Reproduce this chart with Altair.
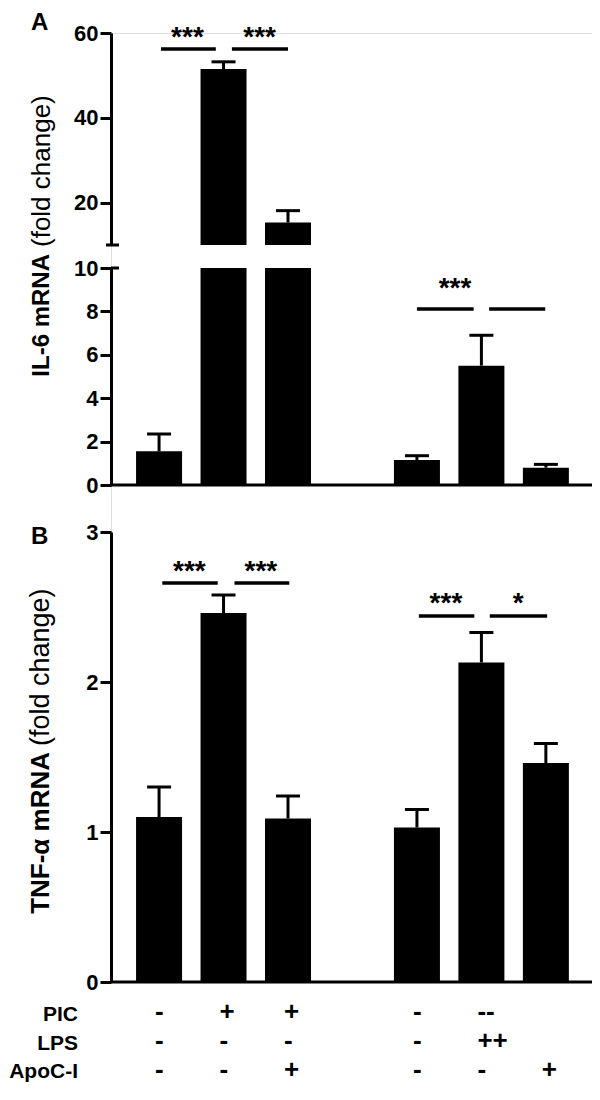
import altair as alt
import pandas as pd

# ---- data ----
positions = [1, 2, 3, 5, 6, 7]
il6_mean = [1.55, 51.5, 15.3, 1.15, 5.5, 0.8]
il6_err = [0.8, 1.7, 2.8, 0.2, 1.4, 0.15]
tnf_mean = [1.10, 2.46, 1.09, 1.03, 2.13, 1.46]
tnf_err = [0.20, 0.12, 0.15, 0.12, 0.20, 0.13]
pic = ["-", "+", "+", "-", "--", ""]
lps = ["-", "-", "-", "-", "++", ""]
apoc = ["-", "-", "+", "-", "-", "+"]

# significance brackets
sigA1_x1 = [1.03, 2.13]
sigA1_x2 = [1.88, 3.00]
sigA1_y = [56.2, 56.2]
starA1_x = [1.44, 2.56]
starA1_y = [56.9, 56.9]
starA1_lab = ["***", "***"]

sigA2_x1 = [5.00, 6.12]
sigA2_x2 = [5.88, 6.99]
sigA2_y = [8.11, 8.11]
starA2_x = [5.59]
starA2_y = [8.66]
starA2_lab = ["***"]

sigB_x1 = [1.05, 2.17, 5.03, 6.13]
sigB_x2 = [1.91, 3.02, 5.89, 7.02]
sigB_y = [2.66, 2.66, 2.44, 2.44]
starB_x = [1.47, 2.58, 5.45, 6.57]
starB_y = [2.68, 2.68, 2.47, 2.47]
starB_lab = ["***", "***", "***", "*"]

FONT = "Liberation Sans"
W = 481

df = pd.DataFrame({
    "pos": positions, "il6": il6_mean, "il6_err": il6_err,
    "tnf": tnf_mean, "tnf_err": tnf_err,
    "pic": pic, "lps": lps, "apoc": apoc,
})

xs = alt.Scale(domain=[0.332, 7.638], nice=False, zero=False)
yA1 = alt.Scale(domain=[10, 60], range=[212, 0], nice=False, zero=False)
yA2 = alt.Scale(domain=[0, 10], range=[452, 235], nice=False, zero=False)
yB = alt.Scale(domain=[0, 3], range=[949, 499], nice=False, zero=False)

axstyle = dict(orient="left", title=None, domainWidth=3, domainColor="black",
               tickWidth=3, tickColor="black", tickSize=11, labelFont=FONT,
               labelFontSize=22, labelFontWeight="bold", labelColor="black",
               labelPadding=2, grid=False, format="d", labelOverlap=False)
axA1 = alt.Axis(values=[20, 40, 60], **axstyle)
axA2 = alt.Axis(values=[0, 2, 4, 6, 8, 10], **axstyle)
axB = alt.Axis(values=[0, 1, 2, 3], **axstyle)

X = alt.X("pos:Q", scale=xs, axis=None)
base = alt.Chart(df)
BAR_W = 46
CAP_W = 24
LW = 3
STAR_SIZE = 28

# ---- Panel A, upper segment (10-60) ----
a1_bars = base.transform_filter("datum.il6 > 10").mark_bar(size=BAR_W, color="black").encode(
    x=X, y=alt.Y("il6:Q", scale=yA1, axis=axA1), y2=alt.datum(10))
a1_err = base.transform_filter("datum.il6 > 10").transform_calculate(
    hi="datum.il6 + datum.il6_err").mark_rule(strokeWidth=LW, color="black").encode(
    x=X, y=alt.Y("il6:Q", scale=yA1, axis=axA1), y2="hi:Q")
a1_cap = base.transform_filter("datum.il6 > 10").transform_calculate(
    hi="datum.il6 + datum.il6_err").mark_tick(orient="horizontal", size=CAP_W, thickness=LW, color="black", opacity=1).encode(
    x=X, y=alt.Y("hi:Q", scale=yA1, axis=axA1))
sA1 = pd.DataFrame({"x1": sigA1_x1, "x2": sigA1_x2, "y": sigA1_y})
tA1 = pd.DataFrame({"x": starA1_x, "y": starA1_y, "t": starA1_lab})
a1_sig = alt.Chart(sA1).mark_rule(strokeWidth=3.5, color="black").encode(
    x=alt.X("x1:Q", scale=xs, axis=None), x2="x2:Q", y=alt.Y("y:Q", scale=yA1, axis=axA1))
a1_star = alt.Chart(tA1).mark_text(font=FONT, fontSize=STAR_SIZE, fontWeight="bold", baseline="alphabetic", color="black").encode(
    x=alt.X("x:Q", scale=xs, axis=None), y=alt.Y("y:Q", scale=yA1, axis=axA1), text="t:N")
a1_break = base.transform_filter("datum.pos == 1").mark_rule(strokeWidth=LW, color="black").encode(
    x=alt.value(-5), x2=alt.value(8), y=alt.Y(datum=10, scale=yA1, axis=axA1))
A1 = alt.layer(a1_bars, a1_err, a1_cap, a1_sig, a1_star, a1_break)

# ---- Panel A, lower segment (0-10) ----
a2_bars = base.transform_calculate(low="min(datum.il6, 10)").mark_bar(size=BAR_W, color="black").encode(
    x=X, y=alt.Y("low:Q", scale=yA2, axis=axA2))
a2_err = base.transform_filter("datum.il6 <= 10").transform_calculate(
    hi="datum.il6 + datum.il6_err").mark_rule(strokeWidth=LW, color="black").encode(
    x=X, y=alt.Y("il6:Q", scale=yA2, axis=axA2), y2="hi:Q")
a2_cap = base.transform_filter("datum.il6 <= 10").transform_calculate(
    hi="datum.il6 + datum.il6_err").mark_tick(orient="horizontal", size=CAP_W, thickness=LW, color="black", opacity=1).encode(
    x=X, y=alt.Y("hi:Q", scale=yA2, axis=axA2))
sA2 = pd.DataFrame({"x1": sigA2_x1, "x2": sigA2_x2, "y": sigA2_y})
tA2 = pd.DataFrame({"x": starA2_x, "y": starA2_y, "t": starA2_lab})
a2_sig = alt.Chart(sA2).mark_rule(strokeWidth=3.5, color="black").encode(
    x=alt.X("x1:Q", scale=xs, axis=None), x2="x2:Q", y=alt.Y("y:Q", scale=yA2, axis=axA2))
a2_star = alt.Chart(tA2).mark_text(font=FONT, fontSize=STAR_SIZE, fontWeight="bold", baseline="alphabetic", color="black").encode(
    x=alt.X("x:Q", scale=xs, axis=None), y=alt.Y("y:Q", scale=yA2, axis=axA2), text="t:N")
a2_break = base.transform_filter("datum.pos == 1").mark_rule(strokeWidth=LW, color="black").encode(
    x=alt.value(0), x2=alt.value(8), y=alt.Y(datum=10, scale=yA2, axis=axA2))
a2_xaxis = base.transform_filter("datum.pos == 1").mark_rule(strokeWidth=LW, color="black").encode(
    x=alt.value(0), x2=alt.value(W), y=alt.Y(datum=0, scale=yA2, axis=axA2))
A2 = alt.layer(a2_bars, a2_err, a2_cap, a2_sig, a2_star, a2_break, a2_xaxis)

# ---- Panel B ----
b_bars = base.mark_bar(size=BAR_W, color="black").encode(
    x=X, y=alt.Y("tnf:Q", scale=yB, axis=axB))
b_err = base.transform_calculate(hi="datum.tnf + datum.tnf_err").mark_rule(strokeWidth=LW, color="black").encode(
    x=X, y=alt.Y("tnf:Q", scale=yB, axis=axB), y2="hi:Q")
b_cap = base.transform_calculate(hi="datum.tnf + datum.tnf_err").mark_tick(
    orient="horizontal", size=CAP_W, thickness=LW, color="black", opacity=1).encode(
    x=X, y=alt.Y("hi:Q", scale=yB, axis=axB))
sB = pd.DataFrame({"x1": sigB_x1, "x2": sigB_x2, "y": sigB_y})
tB = pd.DataFrame({"x": starB_x, "y": starB_y, "t": starB_lab})
b_sig = alt.Chart(sB).mark_rule(strokeWidth=3.5, color="black").encode(
    x=alt.X("x1:Q", scale=xs, axis=None), x2="x2:Q", y=alt.Y("y:Q", scale=yB, axis=axB))
b_star = alt.Chart(tB).mark_text(font=FONT, fontSize=STAR_SIZE, fontWeight="bold", baseline="alphabetic", color="black").encode(
    x=alt.X("x:Q", scale=xs, axis=None), y=alt.Y("y:Q", scale=yB, axis=axB), text="t:N")
b_xaxis = base.transform_filter("datum.pos == 1").mark_rule(strokeWidth=LW, color="black").encode(
    x=alt.value(0), x2=alt.value(W), y=alt.Y(datum=0, scale=yB, axis=axB))
B = alt.layer(b_bars, b_err, b_cap, b_sig, b_star, b_xaxis)

# ---- annotations: titles, panel letters, treatment table ----
one = alt.Chart(pd.DataFrame({"a": [0]}))


def txt(text, x, y, size, weight="bold", align="left", baseline="alphabetic", angle=0):
    return one.mark_text(text=text, font=FONT, fontSize=size, fontWeight=weight, align=align,
                         baseline=baseline, angle=angle, color="black").encode(
        x=alt.value(x), y=alt.value(y))


ann = [
    txt("A", -80, -3, 24),
    txt("B", -80, 511, 24),
    txt("IL-6 mRNA", -69, 221, 24, align="right", baseline="middle", angle=270),
    txt("(fold change)", -69, 214, 26, weight="normal", align="left", baseline="middle", angle=270),
    txt("TNF-α mRNA", -70, 719, 26, align="right", baseline="middle", angle=270),
    txt("(fold change)", -70, 713, 27, weight="normal", align="left", baseline="middle", angle=270),
    txt("PIC", -33, 988, 21, align="right"),
    txt("LPS", -33, 1017, 21, align="right"),
    txt("ApoC-I", -33, 1045, 21, align="right"),
]

rows = [("pic", 987), ("lps", 1016), ("apoc", 1045)]
for fld, ybase in rows:
    ann.append(
        base.mark_text(
            font=FONT, fontSize=26, fontWeight="bold", align="left", dx=-4,
            baseline="alphabetic", color="black").encode(
            x=X, y=alt.value(ybase), text=f"{fld}:N"))

ANN = alt.layer(*ann)

chart = alt.layer(A1, A2, B, ANN).resolve_scale(y="independent").properties(
    width=W, height=949,
    autosize=alt.AutoSizeParams(type="none"),
    padding={"left": 103, "top": 25, "right": 0, "bottom": 102},
).configure_view(stroke=None).configure(background="white")

chart.save("out.html", embed_options={"renderer": "svg", "actions": False})
